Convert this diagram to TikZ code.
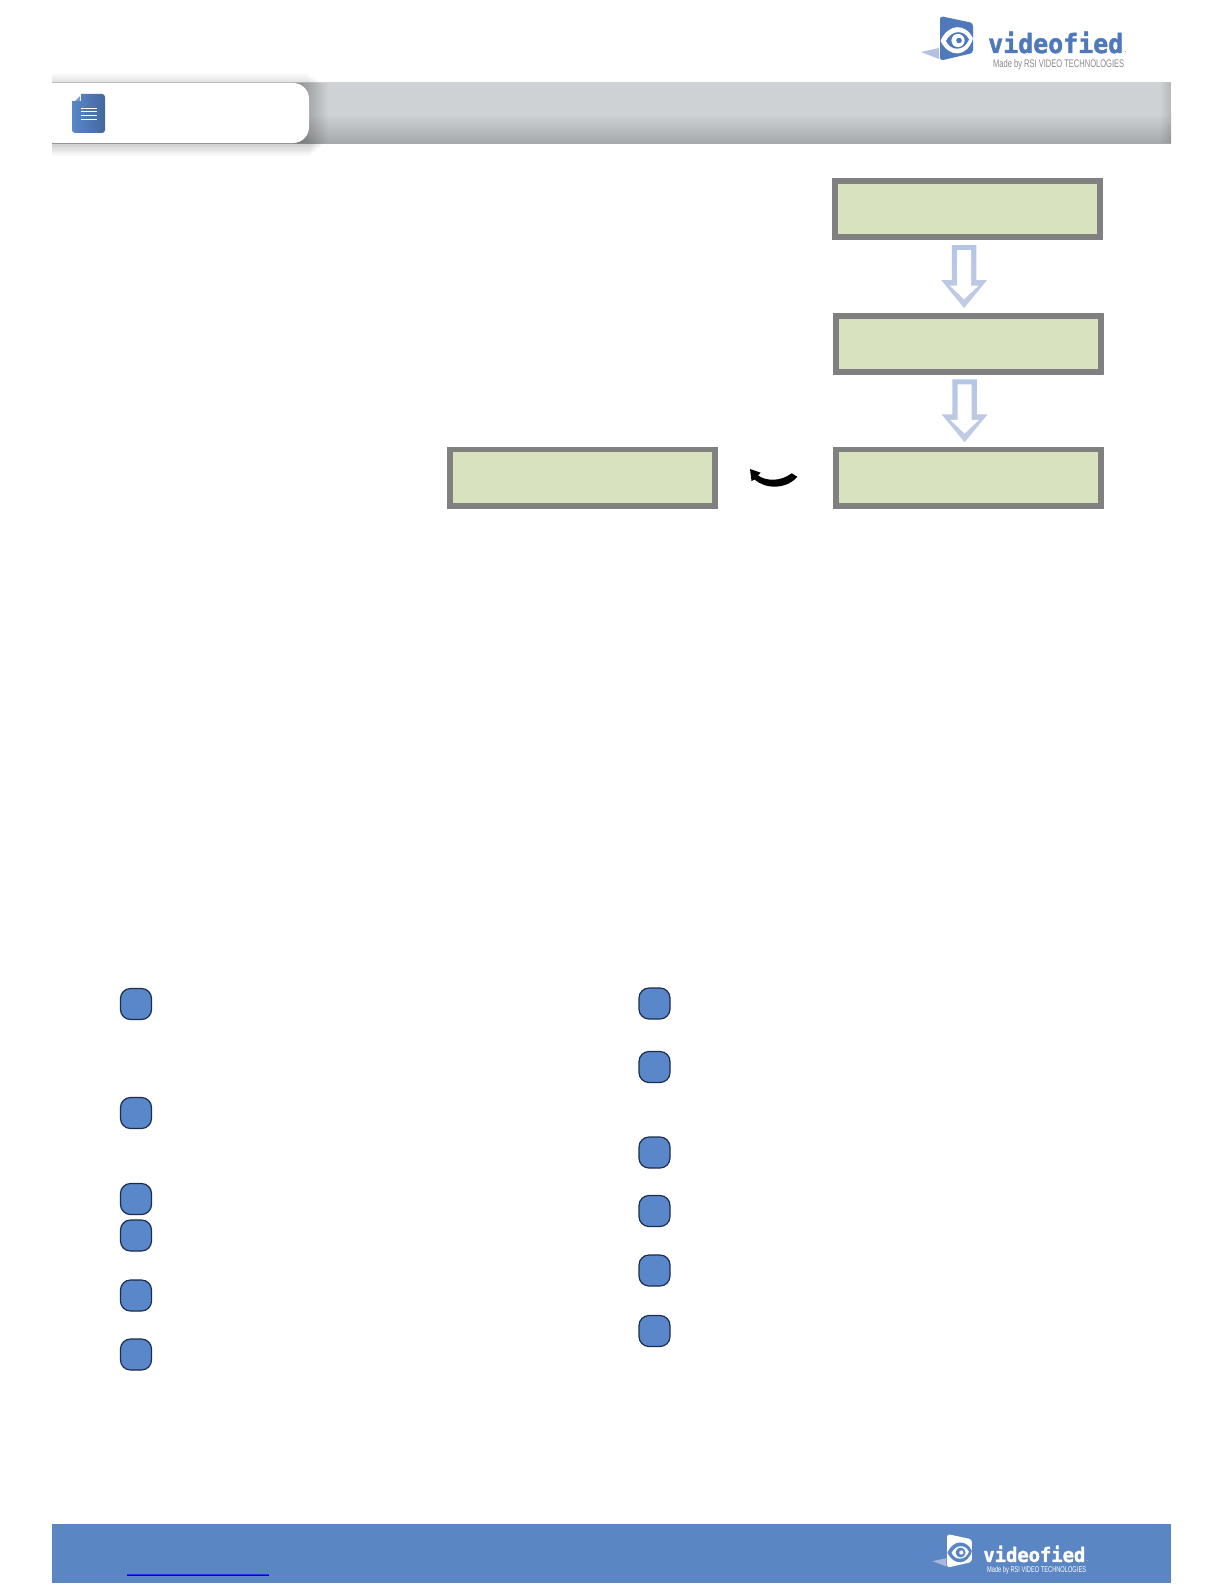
\documentclass[tikz,border=0pt]{standalone}
\usepackage{fontspec}
\usepackage{graphicx}
\usetikzlibrary{calc,fadings}
\newfontfamily\logoslab{DejaVu Sans Mono Bold}[FakeBold=1.6]
\newfontfamily\logosans{Liberation Sans}
\definecolor{bandmid}{HTML}{CFD2D4}
\definecolor{banddark}{HTML}{A6A9AB}
\definecolor{lcdgreen}{HTML}{D8E2BE}
\definecolor{lcdedge}{HTML}{808080}
\definecolor{arrowtop}{HTML}{B3C6E6}
\definecolor{arrowbot}{HTML}{C2CBE3}
\definecolor{badgeblue}{HTML}{5A87C9}
\definecolor{badgeedge}{HTML}{1C2C4C}
\definecolor{footerblue}{HTML}{5B86C4}
\definecolor{logoblue}{HTML}{4F79BA}
\definecolor{logowing}{HTML}{B4C0E2}
\definecolor{logogrey}{HTML}{85888B}
\tikzset{
  lcd/.style={draw=lcdedge,fill=lcdgreen,line width=5.8pt,minimum width=265.2pt,minimum height=56.2pt,inner sep=0pt},
  badge/.style={draw=badgeedge,fill=badgeblue,line width=1.2pt,minimum width=31pt,minimum height=31pt,rounded corners=10pt,inner sep=0pt},
  pics/hollowarrow/.style={code={
    \shade[top color=arrowtop,bottom color=arrowbot]
      (-12.3,-31.5)--(12.3,-31.5)--(12.3,3.5)--(23,3.5)--(0,31.5)--(-23,3.5)--(-12.3,3.5)--cycle;
    \fill[white]
      (-7,-26.5)--(7,-26.5)--(7,9)--(14.5,9)--(0,22.8)--(-14.5,9)--(-7,9)--cycle;
  }},
  pics/curvearrow/.style={code={
    \fill[black] (-25.5,-8.5)--(-14.8,-4.8)--(-17.5,-2)
      .. controls (-9.5,3.5) and (4.5,4.5) .. (16.2,-4.2)--(21.8,-0.8)
      .. controls (10.5,12.5) and (-10.5,11.5) .. (-21,2)--(-24,3.5)--cycle;
  }},
  pics/brandmark/.style n args={5}{code={
    \fill[#2] (-19,36)--(-1,32)--(-1,43)--cycle;
    \fill[#1,rounded corners=3pt] (0,0)--(33,7)--(33,37)--(0,44.7)--cycle;
    \fill[#3] (0.5,25) .. controls (8,7) and (26,7) .. (33,22.5)
      .. controls (27,42) and (9,42) .. cycle;
    \fill[#1] (6,25) .. controls (12,13.5) and (24,13.5) .. (29,23.5)
      .. controls (24,35.5) and (11,35.5) .. cycle;
    \fill[#3] (18,24.5) circle[radius=6.6];
    \fill[#1] (19,24.5) circle[radius=2.8];
    \node[anchor=base west,inner sep=0pt,text=#4,transform shape] (#5word) at (48,37)
      {\resizebox{135pt}{21.5pt}{\logoslab videofied}};
    \node[anchor=base west,inner sep=0pt,text=#4,transform shape,font=\logosans\fontsize{8}{8}\selectfont] (#5dot) at (184.5,37) {.};
    \node[anchor=base west,inner sep=0pt,text=#5,transform shape] (#5made) at (53,51.5)
      {\resizebox{131pt}{8pt}{\logosans Made by RSI VIDEO TECHNOLOGIES}};
  }},
}
\begin{document}
\begin{tikzpicture}[x=1pt,y=-1pt]
\useasboundingbox (0,0) rectangle (1224,1584);
\fill[white] (0,0) rectangle (1224,1584);

% header band
\fill[bandmid] (52,82) rectangle (1171,114);
\shade[top color=bandmid,bottom color=banddark] (52,114) rectangle (1171,143);
\fill[black,opacity=.12,path fading=west] (1160,82) rectangle (1171,143);
\fill[black,opacity=.33,path fading=east] (296,83) rectangle (328,143);
% soft shadows above and below the tab
\foreach \i in {1,...,10} {
  \fill[black,opacity=.012] (52,83-\i) rectangle (324-1.6*\i,83);
  \fill[black,opacity=.018] (52,143) rectangle (326-1.6*\i,143+1.3*\i);
}
\fill[white] (52,83) -- (293,83) .. controls (302,83) and (309,90) .. (309,99)
  -- (309,127) .. controls (309,136) and (302,143) .. (293,143) -- (52,143) -- cycle;

% document icon
\shade[left color=badgeblue,right color=logoblue!85!black,rounded corners=3pt] (72,94) rectangle (105,133);
\fill[white] (71.5,93.5) -- (81,93.5) -- (81,101.5) -- (71.5,101.5) -- cycle;
\fill[logoblue!75!white] (75,101) -- (80,96) -- (80,101) -- cycle;
\foreach \ly in {108.3,111.9,115.7,119.3}
  \draw[white,line width=.9pt] (81,\ly) -- (97,\ly);

% top logo
\pic at (940,16) {brandmark={logoblue}{logowing}{white}{logoblue}{logogrey}};

% display boxes
\node[lcd] (box1) at (967.5,209) {};
\node[lcd] (box2) at (968.5,344) {};
\node[lcd] (box3) at (968.5,477.5) {};
\node[lcd] (box4) at (582.5,477.5) {};

% arrows between boxes
\pic at ($(box1.south)!.5!(box2.north)+(-3.9,0)$) {hollowarrow};
\pic at ($(box2.south)!.5!(box3.north)+(-3.9,0)$) {hollowarrow};
\pic at ($(box4.east)!.5!(box3.west)$) {curvearrow};

% numbered badges, left column
\node[badge] (l1) at (136,1004) {};
\node[badge] (l2) at (136,1113) {};
\node[badge] (l3) at (136,1199) {};
\node[badge] (l4) at (136,1235.5) {};
\node[badge] (l5) at (136,1295.5) {};
\node[badge] (l6) at (136,1354.5) {};
% numbered badges, right column
\node[badge] (r1) at (654.5,1003.5) {};
\node[badge] (r2) at (654.5,1067) {};
\node[badge] (r3) at (654.5,1152.5) {};
\node[badge] (r4) at (654.5,1211) {};
\node[badge] (r5) at (654.5,1270.5) {};
\node[badge] (r6) at (654.5,1331) {};

% footer
\fill[footerblue] (52,1524) rectangle (1171,1583);
\draw[blue!60!footerblue,line width=2.4pt] (127,1575) -- (269,1575);
\draw[blue!80!black,line width=1pt] (127,1575) -- (269,1575);
\pic[scale=.755,transform shape] at (947,1534) {brandmark={white}{logowing!85!footerblue}{footerblue}{white}{white}};
\end{tikzpicture}
\end{document}
